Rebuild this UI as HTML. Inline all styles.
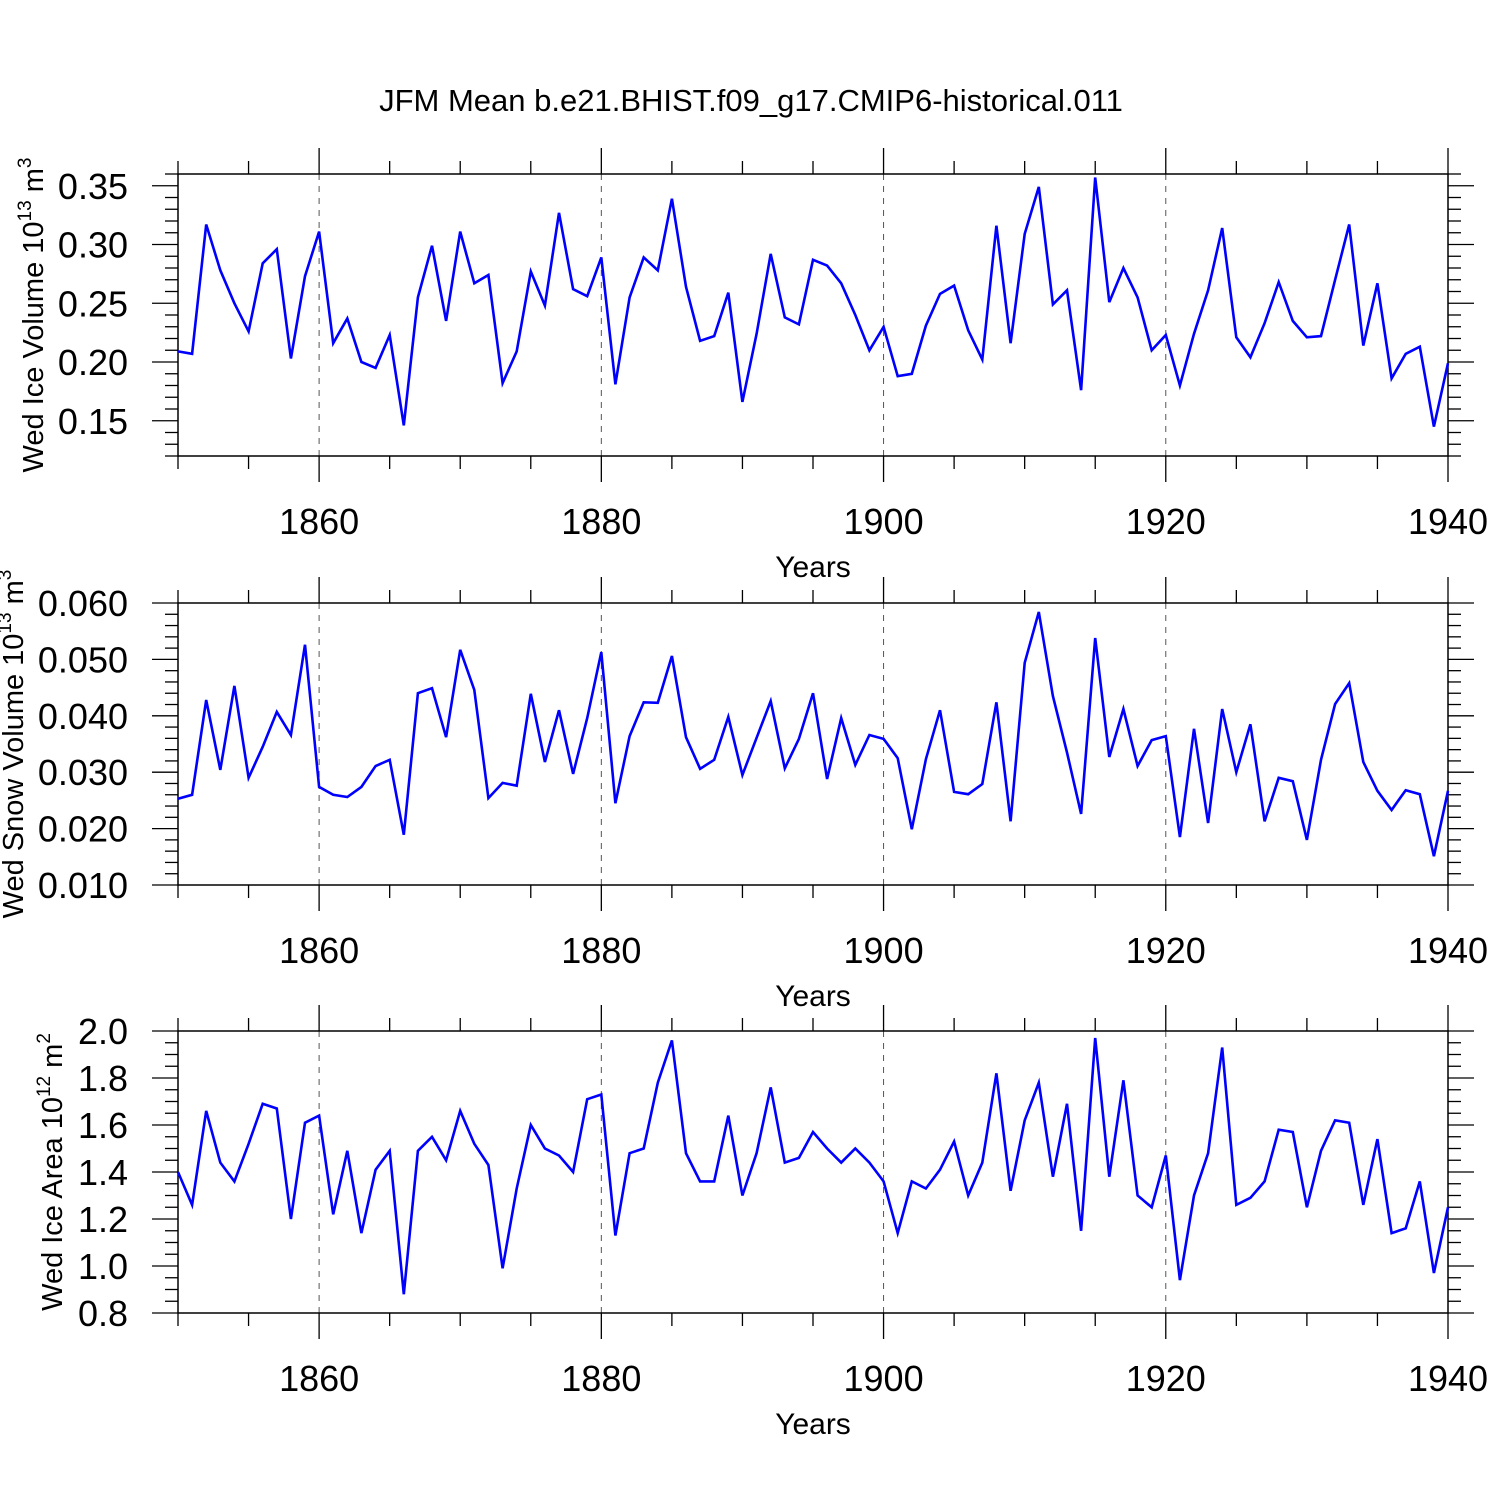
<!DOCTYPE html>
<html><head><meta charset="utf-8"><style>
html,body{margin:0;padding:0;background:#fff;}
svg{display:block;font-family:"Liberation Sans",sans-serif;}
</style></head><body>
<svg id="chart" width="1500" height="1500" viewBox="0 0 1500 1500" xmlns="http://www.w3.org/2000/svg">
<text x="751" y="111" font-size="31" text-anchor="middle">JFM Mean b.e21.BHIST.f09_g17.CMIP6-historical.011</text>
</svg>
<script>
const years = [];
for (let y = 1850; y <= 1940; y++) years.push(y);
const iceVolume = [0.209,0.207,0.317,0.278,0.250,0.226,0.284,0.296,0.203,0.273,
0.311,0.216,0.237,0.200,0.195,0.223,0.146,0.255,0.299,0.235,
0.311,0.267,0.274,0.182,0.209,0.277,0.248,0.327,0.262,0.256,
0.289,0.181,0.255,0.289,0.278,0.339,0.264,0.218,0.222,0.259,
0.166,0.224,0.292,0.238,0.232,0.287,0.282,0.267,0.240,0.210,
0.230,0.188,0.190,0.231,0.258,0.265,0.227,0.202,0.316,0.216,
0.309,0.349,0.249,0.261,0.176,0.357,0.251,0.280,0.255,0.210,
0.223,0.180,0.224,0.261,0.314,0.221,0.204,0.233,0.268,0.235,
0.221,0.222,0.270,0.317,0.214,0.267,0.186,0.207,0.213,0.145,0.199];
const snowVolume = [0.0253,0.026,0.0428,0.0304,0.0453,0.029,0.0345,0.0407,0.0366,0.0526,
0.0274,0.026,0.0256,0.0274,0.0311,0.0322,0.0189,0.044,0.0449,0.0362,
0.0517,0.0446,0.0254,0.0281,0.0276,0.0439,0.0318,0.041,0.0297,0.0396,
0.0513,0.0245,0.0364,0.0424,0.0423,0.0506,0.0362,0.0306,0.0322,0.0398,
0.0295,0.0361,0.0426,0.0307,0.0359,0.044,0.0288,0.0396,0.0313,0.0366,
0.0359,0.0325,0.0199,0.0323,0.041,0.0265,0.0261,0.0279,0.0424,0.0213,
0.0494,0.0584,0.0435,0.0335,0.0226,0.0538,0.0327,0.0412,0.0311,0.0357,
0.0364,0.0185,0.0377,0.021,0.0412,0.030,0.0385,0.0213,0.029,0.0284,
0.018,0.0322,0.0421,0.0458,0.0318,0.0267,0.0233,0.0268,0.0261,0.0151,0.0267];
const iceArea = [1.40,1.26,1.66,1.44,1.36,1.52,1.69,1.67,1.20,1.61,
1.64,1.22,1.49,1.14,1.41,1.49,0.88,1.49,1.55,1.45,
1.66,1.52,1.43,0.99,1.33,1.60,1.50,1.47,1.40,1.71,
1.73,1.13,1.48,1.50,1.78,1.96,1.48,1.36,1.36,1.64,
1.30,1.48,1.76,1.44,1.46,1.57,1.50,1.44,1.50,1.44,
1.36,1.14,1.36,1.33,1.41,1.53,1.30,1.44,1.82,1.32,
1.62,1.78,1.38,1.69,1.15,1.97,1.38,1.79,1.30,1.25,
1.47,0.94,1.30,1.48,1.93,1.26,1.29,1.36,1.58,1.57,
1.25,1.49,1.62,1.61,1.26,1.54,1.14,1.16,1.36,0.97,1.25];
const xTicks = [1860,1880,1900,1920,1940];

const NS = "http://www.w3.org/2000/svg";
const svg = document.getElementById('chart');
function mk(tag, attrs, parent) {
  const e = document.createElementNS(NS, tag);
  for (const k in attrs) e.setAttribute(k, attrs[k]);
  (parent || svg).appendChild(e);
  return e;
}
const X0 = 178, X1 = 1448;
const xs = v => X0 + (v - 1850) / 90 * (X1 - X0);

const panels = [
  {name:'ice-volume', data: iceVolume, top:174, min:0.12, max:0.36, major:[0.15,0.20,0.25,0.30,0.35], minorStep:0.01, dec:2,
   title:'Wed Ice Volume 10', exp:'13', unit:' m', uexp:'3', tx:43},
  {name:'snow-volume', data: snowVolume, top:603, min:0.010, max:0.060, major:[0.010,0.020,0.030,0.040,0.050,0.060], minorStep:0.002, dec:3,
   title:'Wed Snow Volume 10', exp:'13', unit:' m', uexp:'3', tx:23},
  {name:'ice-area', data: iceArea, top:1031, min:0.8, max:2.0, major:[0.8,1.0,1.2,1.4,1.6,1.8,2.0], minorStep:0.05, dec:1,
   title:'Wed Ice Area 10', exp:'12', unit:' m', uexp:'2', tx:62}
];
const H = 282;
panels.forEach(p => {
  const g = mk('g', {});
  
  
  const bot = p.top + H;
  const ys = v => bot - (v - p.min) / (p.max - p.min) * H;
  xTicks.forEach(t => {
    if (t >= 1940) return;
    const l = mk('line', {x1:xs(t), x2:xs(t), y1:p.top, y2:bot, stroke:'#555', 'stroke-width':1, 'stroke-dasharray':'6,6'}, g);
    
    
  });
  for (let t = 1850; t <= 1940; t += 5) {
    const major = t % 20 === 0;
    const len = major ? 26 : 13;
    mk('line', {x1:xs(t), x2:xs(t), y1:bot, y2:bot+len, stroke:'#000', 'stroke-width':1.3}, g);
    mk('line', {x1:xs(t), x2:xs(t), y1:p.top, y2:p.top-len, stroke:'#000', 'stroke-width':1.3}, g);
  }
  const nMin = Math.round((p.max - p.min) / p.minorStep);
  for (let i = 0; i <= nMin; i++) {
    const v = p.min + i * p.minorStep;
    const isMajor = p.major.some(m => Math.abs(m - v) < p.minorStep / 10);
    const len = isMajor ? 26 : 13;
    mk('line', {x1:X0-len, x2:X0, y1:ys(v), y2:ys(v), stroke:'#000', 'stroke-width':1.3}, g);
    mk('line', {x1:X1, x2:X1+len, y1:ys(v), y2:ys(v), stroke:'#000', 'stroke-width':1.3}, g);
  }
  const box = mk('rect', {x:X0, y:p.top, width:X1-X0, height:H, fill:'none', stroke:'#000', 'stroke-width':1.5}, g);
  
  
  p.major.forEach(v => {
    const t = mk('text', {x:128, y:ys(v)+13, 'font-size':36, 'text-anchor':'end'}, g);
    t.textContent = v.toFixed(p.dec);
    
    
  });
  xTicks.forEach(v => {
    const t = mk('text', {x:xs(v), y:bot+78, 'font-size':36, 'text-anchor':'middle'}, g);
    t.textContent = v;
    
    
  });
  const xt = mk('text', {x:813, y:bot+121, 'font-size':30, 'text-anchor':'middle'}, g);
  xt.textContent = 'Years';
  
  
  const cy = p.top + H/2;
  const yt = mk('text', {x:0, y:0, 'font-size':29, 'text-anchor':'middle', transform:`translate(${p.tx},${cy}) rotate(-90)`}, g);
  
  
  const s1 = mk('tspan', {}, yt); s1.textContent = p.title;
  const s2 = mk('tspan', {dy:-12, 'font-size':19}, yt); s2.textContent = p.exp;
  const s3 = mk('tspan', {dy:12}, yt); s3.textContent = p.unit;
  const s4 = mk('tspan', {dy:-12, 'font-size':19}, yt); s4.textContent = p.uexp;
  const pts = p.data.map((v, i) => xs(years[i]).toFixed(1) + ',' + ys(v).toFixed(1)).join(' ');
  const line = mk('polyline', {points:pts, fill:'none', stroke:'#0000ff', 'stroke-width':2.6, 'stroke-linejoin':'miter'}, g);
  
  
});
</script>
</body></html>
